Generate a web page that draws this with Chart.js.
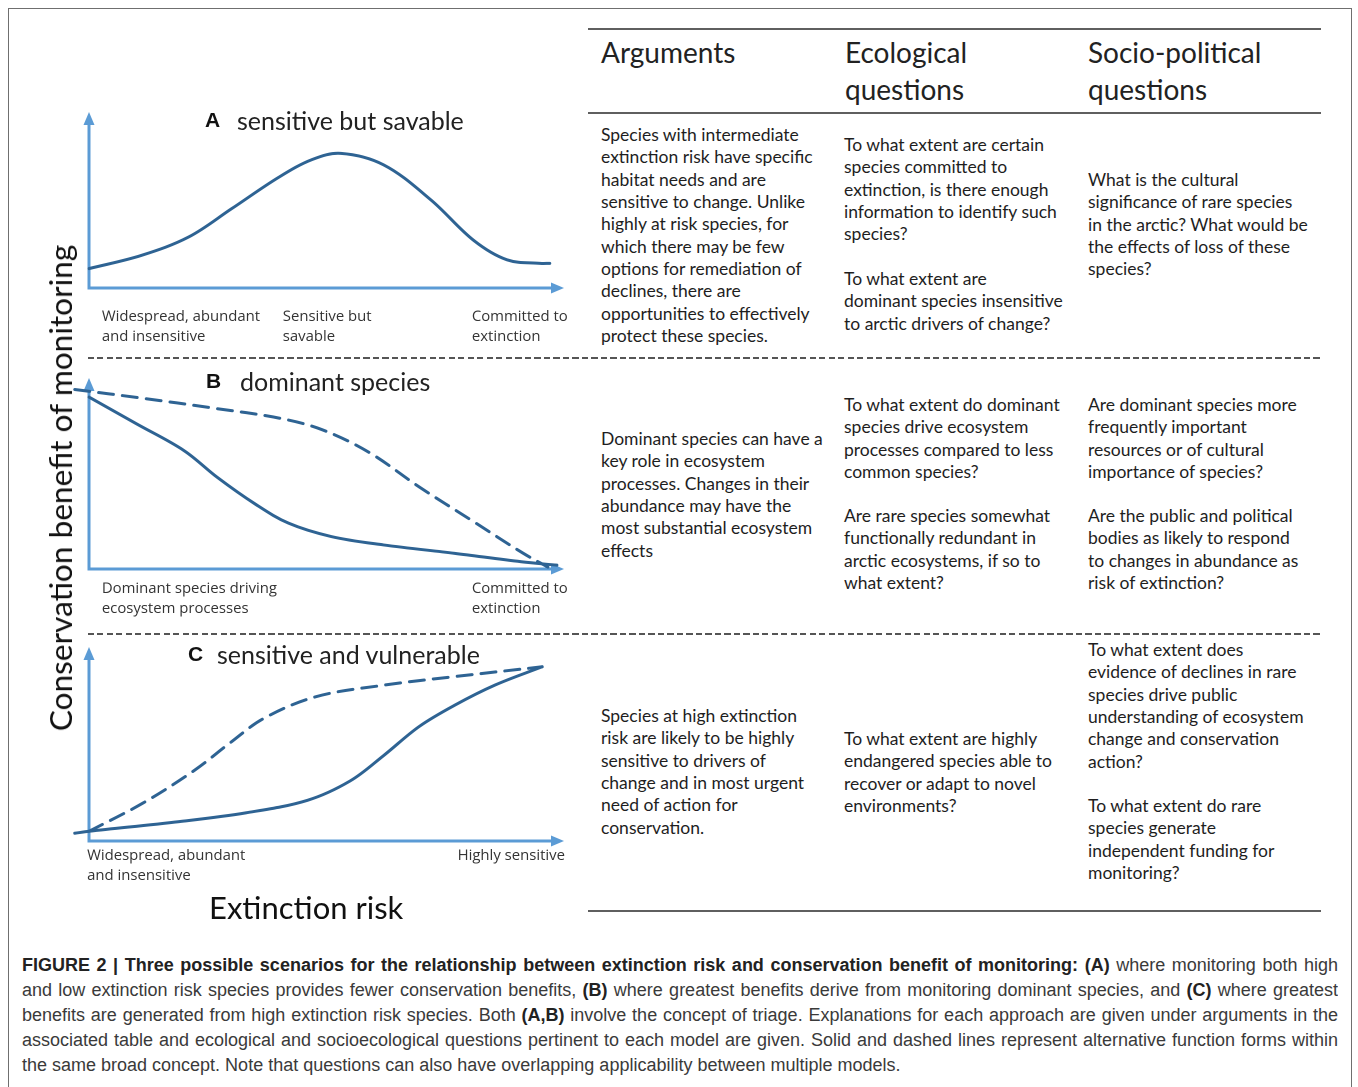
<!DOCTYPE html>
<html><head><meta charset="utf-8">
<script src="https://cdn.jsdelivr.net/npm/chart.js@4.4.1/dist/chart.umd.min.js"></script>
<style>
html,body{margin:0;padding:0;background:#fff;}
body{width:1358px;height:1087px;position:relative;overflow:hidden;font-family:Lato,sans-serif;}
.abs{position:absolute;white-space:nowrap;}
#frame{position:absolute;left:8px;top:8px;width:1342px;height:1090px;border:1px solid #6f6f6f;}
canvas{position:absolute;}
.hd{font-family:Lato;font-size:28px;color:#222;line-height:37px;}
.bt{font-family:Lato;font-size:17.5px;color:#1e1e1e;line-height:22.35px;letter-spacing:0;}
.rule{position:absolute;left:588px;width:733px;height:2px;background:#5f5f5f;}
.dash{position:absolute;left:88px;width:1233px;height:1.5px;background:repeating-linear-gradient(to right,#555 0 6px,transparent 6px 9.5px);}
.plet{font-family:'Liberation Sans',Arial,sans-serif;font-weight:bold;font-size:21px;color:#111;line-height:30px;}
.ptxt{font-family:Lato;font-size:25px;color:#222;line-height:30px;}
.cap{position:absolute;left:22px;top:953px;width:1316px;font-family:'Liberation Sans',Arial,sans-serif;font-size:18px;color:#3a3a3a;line-height:25px;}
.cap div{white-space:nowrap;}
.cap .j{text-align:justify;text-align-last:justify;white-space:normal;height:25px;overflow:hidden;}
.cap b{color:#222;}
</style>
</head><body>
<div id="frame"></div>

<canvas id="cA"></canvas>
<canvas id="cB"></canvas>
<canvas id="cC"></canvas>

<div class="abs" id="ytitle" style="left:60px;top:488px;transform:translate(-50%,-50%) rotate(-90deg);font-family:Lato;font-size:31.6px;color:#111;">Conservation benefit of monitoring</div>
<div class="abs" style="left:209px;top:888px;font-family:Lato;font-size:31px;color:#111;line-height:38px;">Extinction risk</div>

<div class="abs plet" style="left:205px;top:105px;">A</div>
<div class="abs ptxt" style="left:237px;top:105px;">sensitive but savable</div>
<div class="abs plet" style="left:206px;top:366px;">B</div>
<div class="abs ptxt" style="left:240px;top:366px;">dominant species</div>
<div class="abs plet" style="left:188px;top:639px;">C</div>
<div class="abs ptxt" style="left:217px;top:639px;">sensitive and vulnerable</div>

<div class="rule" style="top:28px;"></div>
<div class="rule" style="top:112px;"></div>
<div class="rule" style="top:910px;"></div>
<div class="dash" style="top:357px;"></div>
<div class="dash" style="top:633px;"></div>

<div class="abs hd" style="left:601px;top:34px;">Arguments</div>
<div class="abs hd" style="left:845px;top:34px;">Ecological<br>questions</div>
<div class="abs hd" style="left:1088px;top:34px;">Socio-political<br>questions</div>

<div class="abs bt" style="left:601px;top:124px;">Species with intermediate<br>extinction risk have specific<br>habitat needs and are<br>sensitive to change. Unlike<br>highly at risk species, for<br>which there may be few<br>options for remediation of<br>declines, there are<br>opportunities to effectively<br>protect these species.</div>
<div class="abs bt" style="left:844px;top:134px;">To what extent are certain<br>species committed to<br>extinction, is there enough<br>information to identify such<br>species?</div>
<div class="abs bt" style="left:844px;top:268px;">To what extent are<br>dominant species insensitive<br>to arctic drivers of change?</div>
<div class="abs bt" style="left:1088px;top:169px;">What is the cultural<br>significance of rare species<br>in the arctic? What would be<br>the effects of loss of these<br>species?</div>

<div class="abs bt" style="left:601px;top:428px;">Dominant species can have a<br>key role in ecosystem<br>processes. Changes in their<br>abundance may have the<br>most substantial ecosystem<br>effects</div>
<div class="abs bt" style="left:844px;top:394px;">To what extent do dominant<br>species drive ecosystem<br>processes compared to less<br>common species?</div>
<div class="abs bt" style="left:844px;top:505px;">Are rare species somewhat<br>functionally redundant in<br>arctic ecosystems, if so to<br>what extent?</div>
<div class="abs bt" style="left:1088px;top:394px;">Are dominant species more<br>frequently important<br>resources or of cultural<br>importance of species?</div>
<div class="abs bt" style="left:1088px;top:505px;">Are the public and political<br>bodies as likely to respond<br>to changes in abundance as<br>risk of extinction?</div>

<div class="abs bt" style="left:601px;top:705px;">Species at high extinction<br>risk are likely to be highly<br>sensitive to drivers of<br>change and in most urgent<br>need of action for<br>conservation.</div>
<div class="abs bt" style="left:844px;top:728px;">To what extent are highly<br>endangered species able to<br>recover or adapt to novel<br>environments?</div>
<div class="abs bt" style="left:1088px;top:639px;">To what extent does<br>evidence of declines in rare<br>species drive public<br>understanding of ecosystem<br>change and conservation<br>action?</div>
<div class="abs bt" style="left:1088px;top:795px;">To what extent do rare<br>species generate<br>independent funding for<br>monitoring?</div>

<div class="cap">
<div class="j"><b>FIGURE 2 | Three possible scenarios for the relationship between extinction risk and conservation benefit of monitoring: (A)</b> where monitoring both high</div>
<div class="j">and low extinction risk species provides fewer conservation benefits, <b>(B)</b> where greatest benefits derive from monitoring dominant species, and <b>(C)</b> where greatest</div>
<div class="j">benefits are generated from high extinction risk species. Both <b>(A,B)</b> involve the concept of triage. Explanations for each approach are given under arguments in the</div>
<div class="j">associated table and ecological and socioecological questions pertinent to each model are given. Solid and dashed lines represent alternative function forms within</div>
<div>the same broad concept. Note that questions can also have overlapping applicability between multiple models.</div>
</div>

<script>
// ---- data (x: extinction risk 0..100 along axis, y: conservation benefit 0..100) ----
const xLabelsA = [["Widespread, abundant","and insensitive"],["Sensitive but","savable"],["Committed to","extinction"]];
const xLabelPosA = [2.7, 40.8, 80.6];
const solidA_x = [0, 11, 21, 30, 40, 47, 53, 62, 72, 81, 88, 95, 97];
const solidA_y = [11, 18.5, 29, 45, 63, 73, 76.5, 70, 50, 27, 16, 14, 14];

const xLabelsB = [["Dominant species driving","ecosystem processes"],["Committed to","extinction"]];
const xLabelPosB = [2.7, 80.6];
const solidB_x = [0, 10, 20, 27, 35, 42, 51, 62, 77, 91, 98.5];
const solidB_y = [90, 76, 62, 48, 34, 24, 17, 12.6, 8.2, 3.8, 2];
const dashB_x = [-3, 11, 26, 40, 49, 59, 69.5, 80.4, 91.3, 96.6];
const dashB_y = [94, 89.5, 84.3, 79, 73, 61, 43, 25.7, 8.4, 1];

const xLabelsC = [["Widespread, abundant","and insensitive"],["Highly sensitive"]];
const xLabelPosC = [-0.4, 77.6];
const solidC_x = [-3, 0, 19, 33, 46, 55, 62, 69.5, 77, 85.5, 95.4];
const solidC_y = [4, 5, 10, 14.5, 21, 31, 44, 59, 70, 80.4, 89.8];
const dashC_x = [0, 11.4, 22.3, 29.6, 36.8, 47.8, 62.3, 76.8, 95.4];
const dashC_y = [5, 19.6, 36.6, 50.4, 63.2, 74.4, 80.4, 84.7, 89.8];

// ---- styles / layout ----
const AXIS = '#5b9bd5', CURVE = '#2e6393';
Chart.defaults.font.family = 'Lato';

function pts(xs, ys){ return xs.map((x,i)=>({x:x, y:ys[i]})); }

const axesPlugin = {
  id:'arrowAxes',
  beforeDatasetsDraw(chart){
    const {ctx, scales:{x,y}} = chart;
    const x0 = x.getPixelForValue(0), y0 = y.getPixelForValue(0);
    const xt = x.getPixelForValue(100), yt = y.getPixelForValue(100);
    ctx.save();
    ctx.strokeStyle = AXIS; ctx.fillStyle = AXIS; ctx.lineWidth = 3; ctx.lineCap='butt';
    ctx.beginPath(); ctx.moveTo(x0, y0); ctx.lineTo(xt-10, y0);
    ctx.moveTo(x0, y0+1.5); ctx.lineTo(x0, yt+10); ctx.stroke();
    ctx.beginPath(); ctx.moveTo(xt, y0); ctx.lineTo(xt-13, y0-5.5); ctx.lineTo(xt-13, y0+5.5); ctx.closePath(); ctx.fill();
    ctx.beginPath(); ctx.moveTo(x0, yt); ctx.lineTo(x0-5.5, yt+13); ctx.lineTo(x0+5.5, yt+13); ctx.closePath(); ctx.fill();
    ctx.restore();
  }
};
const labelPlugin = {
  id:'catLabels',
  afterDraw(chart, args, opts){
    const {ctx, scales:{x,y}} = chart;
    const y0 = y.getPixelForValue(0);
    ctx.save();
    ctx.font = '14.9px "Open Sans"'; ctx.fillStyle = '#333'; ctx.textAlign='left'; ctx.textBaseline='middle';
    opts.labels.forEach((lines,i)=>{
      const px = x.getPixelForValue(opts.pos[i]);
      lines.forEach((t,j)=> ctx.fillText(t, px, y0 + opts.offset + j*opts.gap));
    });
    ctx.restore();
  }
};

function makePanel(id, box, axis, datasets, labels, pos, offset){
  const cv = document.getElementById(id);
  cv.style.left = box.left+'px'; cv.style.top = box.top+'px';
  cv.style.width = box.width+'px'; cv.style.height = box.height+'px';
  cv.width = box.width; cv.height = box.height;
  const pxX = (axis.tipX-axis.ox)/100, pxY = (axis.oy-axis.tipY)/100;
  const xmin = -(axis.ox-box.left)/pxX, xmax = xmin + box.width/pxX;
  const ymax = (axis.oy-box.top)/pxY, ymin = ymax - box.height/pxY;
  new Chart(cv, {
    type:'line',
    data:{datasets: datasets.map(d=>({
      data:d.data, borderColor:CURVE, borderWidth:3, borderDash:d.dash||[], pointRadius:0,
      tension:0.35, fill:false, clip:false, borderCapStyle:'round'
    }))},
    options:{
      responsive:false, animation:false, devicePixelRatio:2,
      layout:{padding:0},
      plugins:{legend:{display:false}, tooltip:{enabled:false},
        catLabels:{labels:labels, pos:pos, offset:offset, gap:20}},
      scales:{
        x:{type:'linear', min:xmin, max:xmax, display:false},
        y:{type:'linear', min:ymin, max:ymax, display:false}
      }
    },
    plugins:[axesPlugin, labelPlugin]
  });
}

makePanel('cA', {left:60, top:100, width:520, height:250},
  {ox:89, tipX:564, oy:288, tipY:112},
  [{data:pts(solidA_x, solidA_y)}], xLabelsA, xLabelPosA, 29);
makePanel('cB', {left:60, top:365, width:520, height:260},
  {ox:89, tipX:564, oy:569, tipY:378},
  [{data:pts(solidB_x, solidB_y)}, {data:pts(dashB_x, dashB_y), dash:[15,9]}], xLabelsB, xLabelPosB, 20);
makePanel('cC', {left:60, top:635, width:520, height:255},
  {ox:89, tipX:564, oy:841, tipY:647},
  [{data:pts(solidC_x, solidC_y)}, {data:pts(dashC_x, dashC_y), dash:[15,9]}], xLabelsC, xLabelPosC, 15);
</script>
</body></html>
